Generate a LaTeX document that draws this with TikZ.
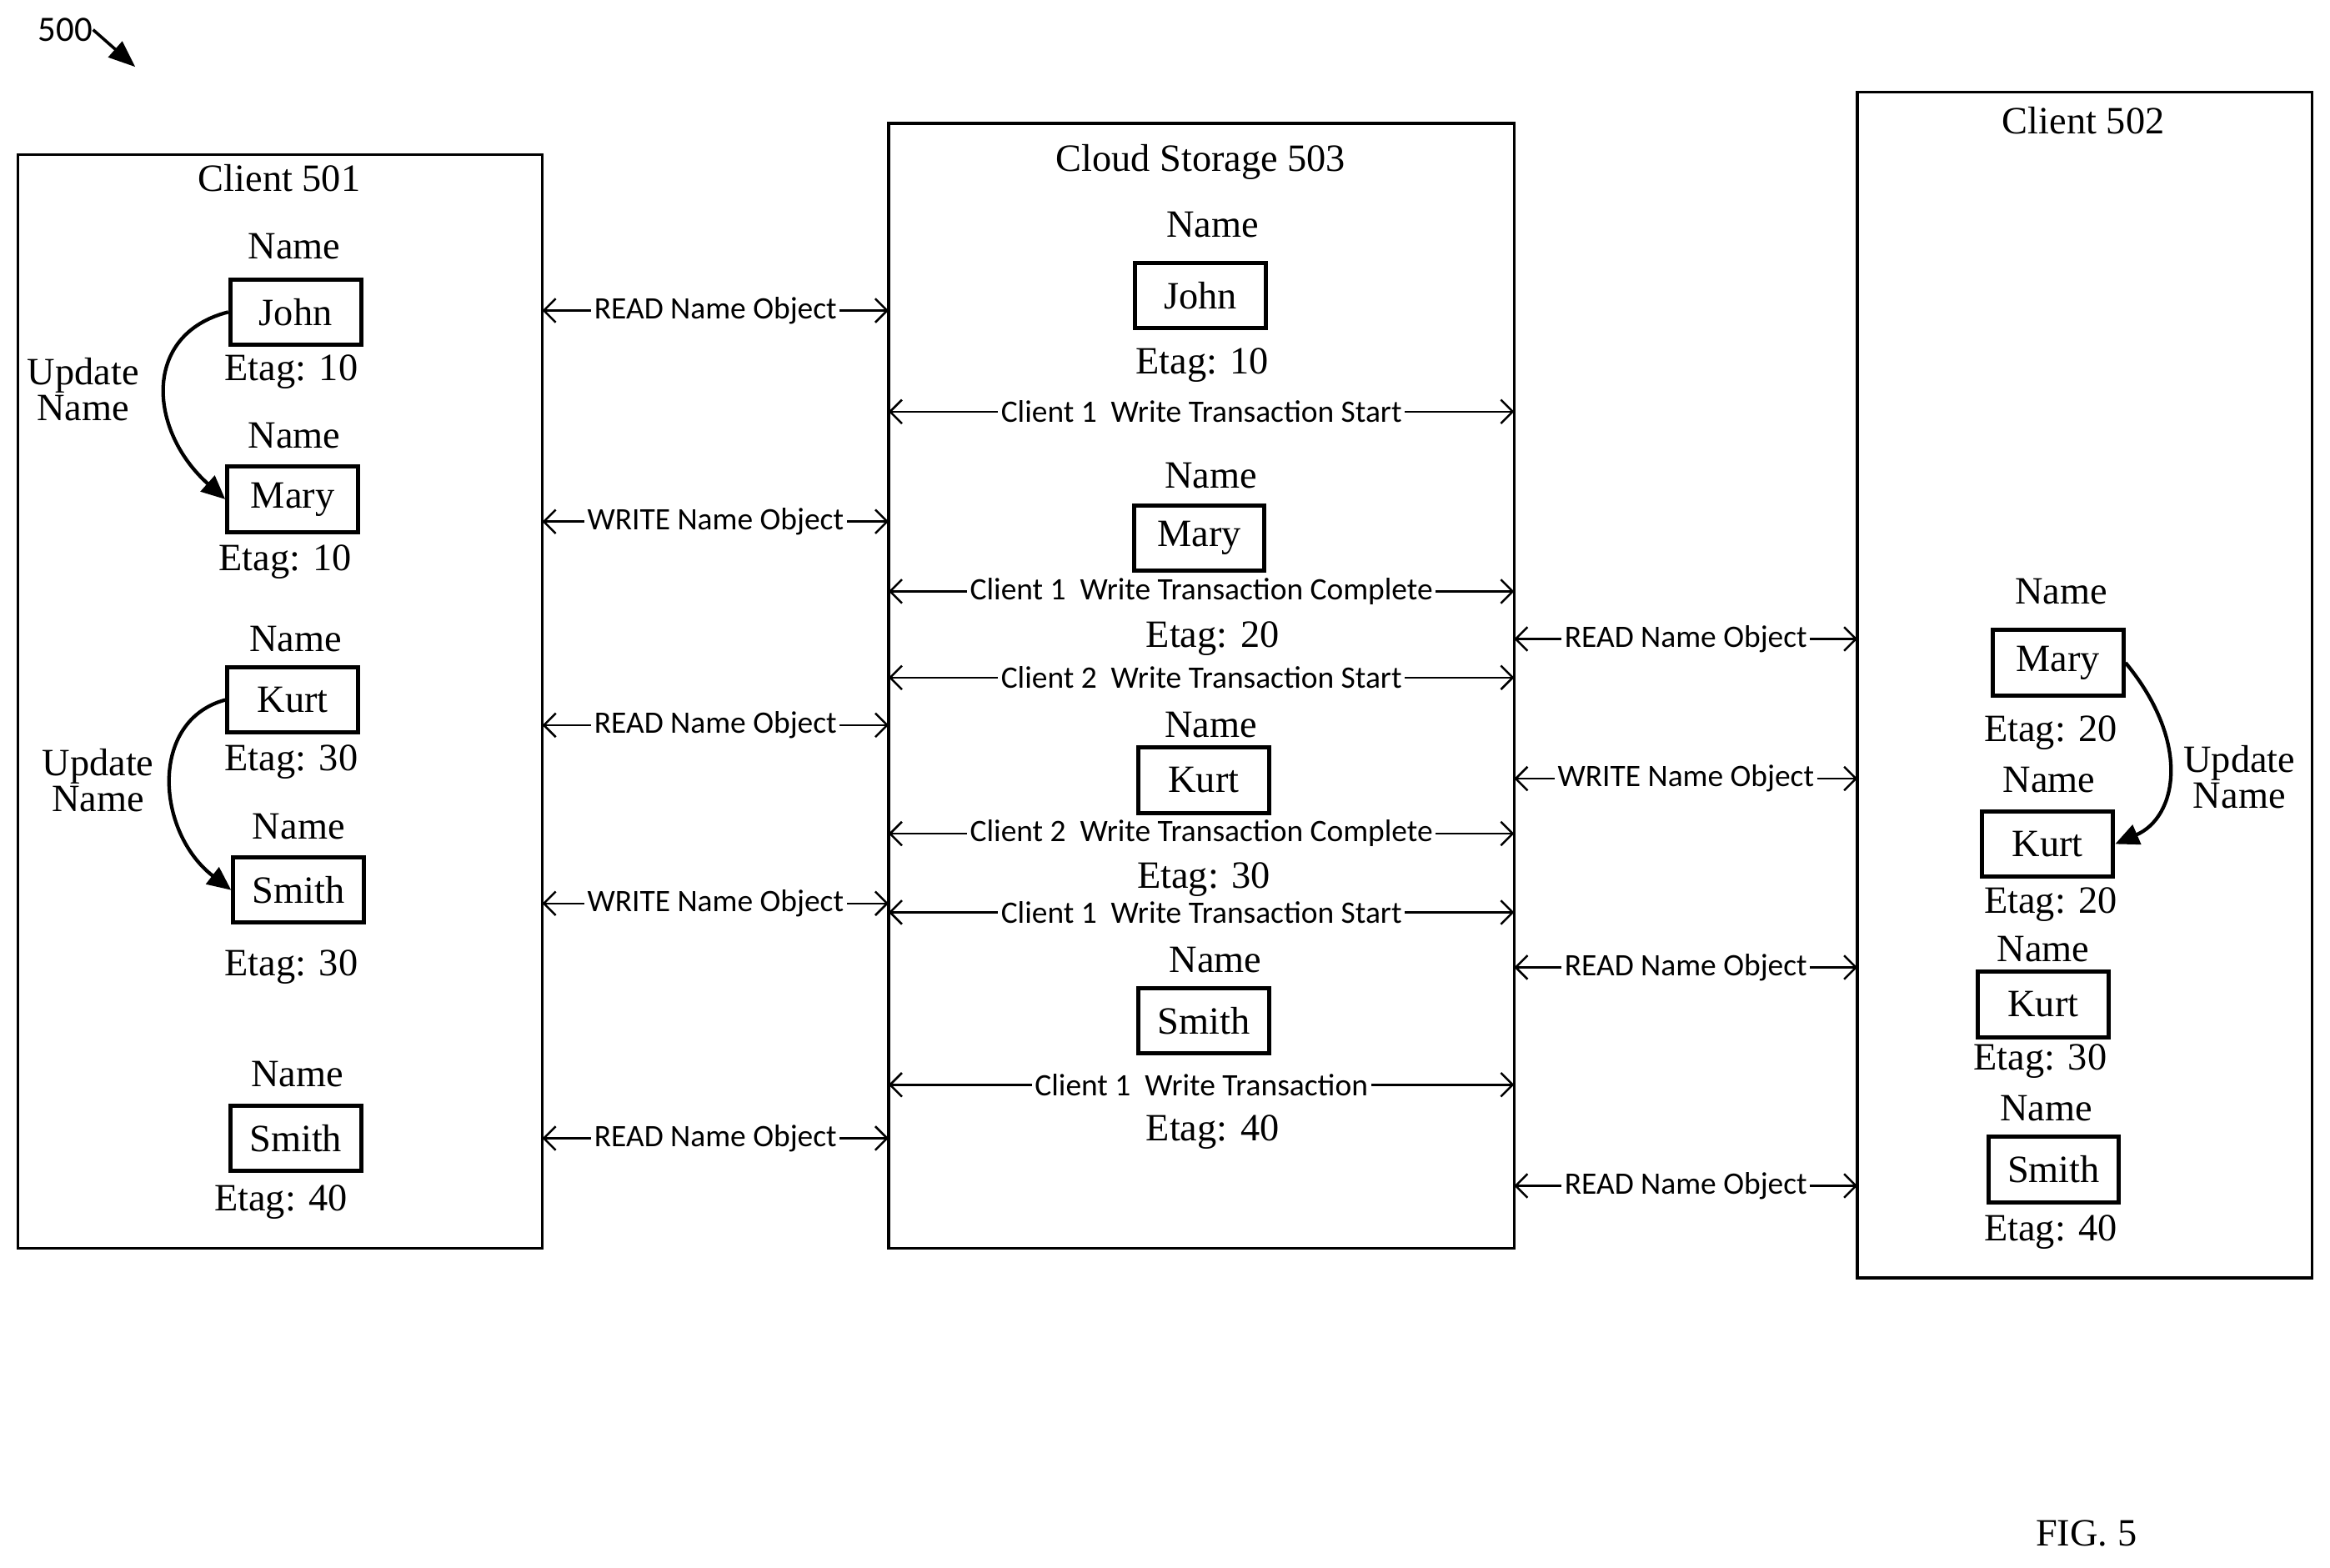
\documentclass[tikz,border=0pt]{standalone}
\usepackage{fontspec}
\setmainfont{Liberation Serif}
\newfontfamily\lab{Carlito}
\usetikzlibrary{arrows.meta}
\begin{document}
\begin{tikzpicture}[x=0.5pt,y=-0.5pt,
  big/.style={draw,line width=1pt},
  obj/.style={draw,line width=1.4pt,minimum width=44pt,minimum height=22pt,inner sep=0pt,font=\fontsize{13}{13}\selectfont},
  t/.style={font=\fontsize{13}{13}\selectfont,inner sep=0pt},
  msg/.style={draw,line width=0.7pt,{Straight Barb[length=4pt]}-{Straight Barb[length=4pt]}},
  ml/.style={font=\lab\fontsize{10.5}{10.5}\selectfont,fill=white,inner sep=1pt},
  cur/.style={draw,line width=1.2pt,-{Triangle[length=8pt,width=7pt]}}]
\useasboundingbox (0,0) rectangle (1568,1055);
% big boxes
\node[big,minimum width=176.5pt,minimum height=368pt,inner sep=0pt] (c1) at (188.5,472) {};
\node[big,minimum width=210.5pt,minimum height=378.5pt,inner sep=0pt] (cs) at (808.5,461.5) {};
\node[big,minimum width=153pt,minimum height=399pt,inner sep=0pt] (c2) at (1403,461) {};
\node[t] (h1) at (188,120) {Client 501};
\node[t] (h2) at (808,109) {Cloud Storage 503};
\node[t] (h3) at (1402,81) {Client 502};
% client 501
\node[t] at (198,166) {Name};
\node[obj] (a1) at (199,210) {John};
\node[t] at (196,250) {Etag: 10};
\node[t] at (198,293) {Name};
\node[obj] (a2) at (197,336) {Mary};
\node[t] at (192,378) {Etag: 10};
\node[t] at (199,430) {Name};
\node[obj] (a3) at (197,471) {Kurt};
\node[t] at (196,513) {Etag: 30};
\node[t] at (201,556) {Name};
\node[obj] (a4) at (201,599) {Smith};
\node[t] at (196,651) {Etag: 30};
\node[t] at (200,723) {Name};
\node[obj] (a5) at (199,766) {Smith};
\node[t] at (189,809) {Etag: 40};
\node[t,align=center] (u1) at (56,262) {Update\\[-1pt]Name};
\node[t,align=center] (u2) at (66,525) {Update\\[-1pt]Name};
\path[cur] (a1.west) .. controls (95,225) and (100,290) .. (a2.west);
\path[cur] (a3.west) .. controls (100,485) and (105,560) .. (a4.west);
% cloud
\node[t] at (816,151) {Name};
\node[obj] (b1) at (808,199) {John};
\node[t] at (809,246) {Etag: 10};
\node[t] at (815,320) {Name};
\node[obj] (b2) at (807,362) {Mary};
\node[t] at (816,430) {Etag: 20};
\node[t] at (815,488) {Name};
\node[obj] (b3) at (810,525) {Kurt};
\node[t] at (810,592) {Etag: 30};
\node[t] at (818,646) {Name};
\node[obj] (b4) at (810,687) {Smith};
\node[t] at (816,762) {Etag: 40};
% client 502
\node[t] at (1387,398) {Name};
\node[obj] (d1) at (1385,446) {Mary};
\node[t] at (1380,493) {Etag: 20};
\node[t] at (1379,525) {Name};
\node[obj] (d2) at (1378,568) {Kurt};
\node[t] at (1380,609) {Etag: 20};
\node[t] at (1375,639) {Name};
\node[obj] (d3) at (1375,676) {Kurt};
\node[t] at (1373,714) {Etag: 30};
\node[t] at (1377,746) {Name};
\node[obj] (d4) at (1382,787) {Smith};
\node[t] at (1380,829) {Etag: 40};
\node[t,align=center] (u3) at (1507,523) {Update\\[-1pt]Name};
\path[cur] (d1.east) .. controls (1475,500) and (1465,550) .. (d2.east);
% left messages
\foreach \y/\s in {209/READ Name Object,351/WRITE Name Object,488/READ Name Object,608/WRITE Name Object,766/READ Name Object}
  \draw[msg] (365,\y) -- node[ml]{\s} (598,\y);
\foreach \y/\s in {430/READ Name Object,524/WRITE Name Object,651/READ Name Object,798/READ Name Object}
  \draw[msg] (1019,\y) -- node[ml]{\s} (1250,\y);
\foreach \y/\s in {277/{Client 1\ \ Write Transaction Start},398/{Client 1\ \ Write Transaction Complete},456/{Client 2\ \ Write Transaction Start},561/{Client 2\ \ Write Transaction Complete},614/{Client 1\ \ Write Transaction Start},730/{Client 1\ \ Write Transaction}}
  \draw[msg] (598,\y) -- node[ml]{\s} (1019,\y);
% figure labels
\node[font=\lab\fontsize{12}{12}\selectfont,inner sep=0pt] (n500) at (44,20) {500};
\coordinate (p500) at (91,45);
\draw[line width=1pt,-{Triangle[length=9pt,width=7pt]}] (n500.east) -- (p500);
\node[t] (fig) at (1404,1032) {FIG. 5};
\end{tikzpicture}
\end{document}
